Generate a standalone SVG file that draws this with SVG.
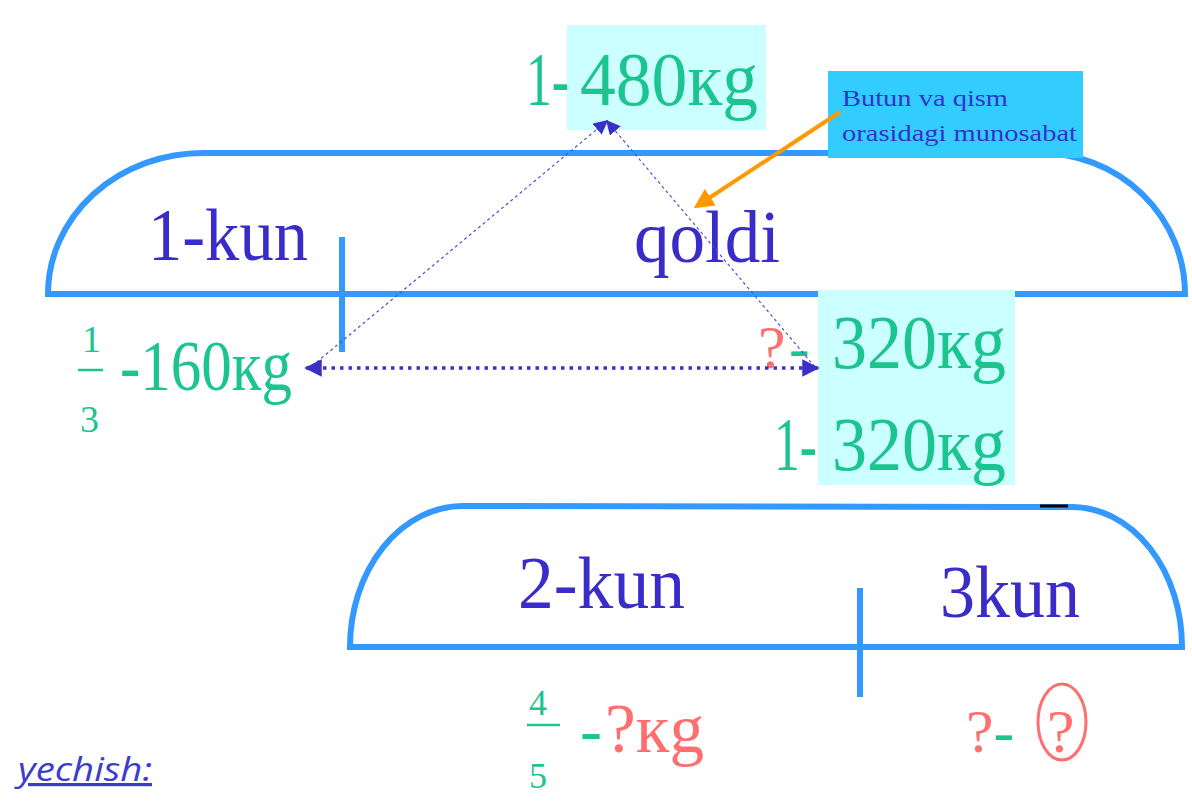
<svg xmlns="http://www.w3.org/2000/svg" width="1192" height="809" viewBox="0 0 1192 809">
<style>
.arch{fill:none;stroke:#3399FF;stroke-width:6}
.tick{stroke:#3399FF;stroke-width:6}
.ser{font-family:"Liberation Serif","DejaVu Serif",serif}
.kun{fill:#3A2CC8;font-size:74px}
.grn{fill:#1CC490}
.red{fill:#FF6F6F}
.thin{stroke:#5050D8;stroke-width:1.2;stroke-dasharray:3 3;fill:none}
.dots{stroke:#3A30C8;stroke-width:3.5;stroke-dasharray:3.5 5;fill:none}
</style>
<defs>
<marker id="ah" viewBox="0 0 10 10" refX="9" refY="5" markerWidth="5" markerHeight="5" orient="auto-start-reverse"><path d="M0,0 L10,5 L0,10 Z" fill="#3A30C8"/></marker>
<marker id="ah2" viewBox="0 0 10 10" refX="9" refY="5" markerWidth="12" markerHeight="12" orient="auto"><path d="M0,0 L10,5 L0,10 Z" fill="#3A30C8"/></marker>
<marker id="oa" viewBox="0 0 10 10" refX="8" refY="5" markerWidth="5" markerHeight="5" orient="auto"><path d="M0,0 L10,5 L0,10 Z" fill="#FF9900"/></marker>
</defs>

<g id="top-arch">
<path class="arch" d="M48,294 A155,141 0 0 1 203,153 L1040,153 A145,141 0 0 1 1185,294 Z"/>
<line class="tick" x1="342" y1="237" x2="342" y2="352"/>
<text class="ser kun" x="148" y="260" textLength="160" lengthAdjust="spacingAndGlyphs">1-kun</text>
<text class="ser kun" x="634" y="262" textLength="146" lengthAdjust="spacingAndGlyphs">qoldi</text>
</g>

<g id="bottom-arch">
<path class="arch" d="M350,647 A113,141 0 0 1 463,506 L1072,507 A110,140 0 0 1 1182,647 Z"/>
<line x1="1040" y1="506" x2="1068" y2="506" stroke="#000" stroke-width="3"/>
<line class="tick" x1="860" y1="588" x2="860" y2="697"/>
<text class="ser kun" x="518" y="608" textLength="167" lengthAdjust="spacingAndGlyphs">2-kun</text>
<text class="ser kun" x="940" y="617" textLength="140" lengthAdjust="spacingAndGlyphs">3kun</text>
</g>

<g id="whole">
<rect x="567" y="25" width="199" height="105" fill="#CCFFFF"/>
<text class="ser grn" transform="translate(526,105) scale(0.68,1)" x="0" y="0" font-size="76">1-</text>
<text class="ser grn" x="580" y="105" font-size="76" textLength="178" lengthAdjust="spacingAndGlyphs">480кg</text>
</g>

<g id="note">
<rect x="828" y="71" width="255" height="87" fill="#33CCFF"/>
<text class="ser" x="842" y="106" font-size="24" fill="#3333CC" textLength="166" lengthAdjust="spacingAndGlyphs">Butun va qism</text>
<text class="ser" x="842" y="141" font-size="24" fill="#3333CC" textLength="235" lengthAdjust="spacingAndGlyphs">orasidagi munosabat</text>
</g>

<g id="part1">
<text class="ser grn" x="82" y="352" font-size="38">1</text>
<line x1="78" y1="370" x2="103" y2="370" stroke="#1CC490" stroke-width="2.5"/>
<text class="ser grn" x="80" y="432" font-size="38">3</text>
<text class="ser grn" x="120" y="390" font-size="72" textLength="172" lengthAdjust="spacingAndGlyphs">-160кg</text>
</g>

<g id="rest">
<text class="ser red" x="758" y="368" font-size="62">?</text>
<text class="ser grn" x="789" y="368" font-size="62">-</text>
<rect x="818" y="290" width="197" height="195" fill="#CCFFFF"/>
<text class="ser grn" x="832" y="368" font-size="76" textLength="174" lengthAdjust="spacingAndGlyphs">320кg</text>
<text class="ser grn" transform="translate(774,470) scale(0.68,1)" x="0" y="0" font-size="76">1-</text>
<text class="ser grn" x="832" y="470" font-size="76" textLength="174" lengthAdjust="spacingAndGlyphs">320кg</text>
</g>

<g id="part2">
<text class="ser grn" x="529" y="715" font-size="36">4</text>
<line x1="527" y1="725" x2="560" y2="725" stroke="#1CC490" stroke-width="2.5"/>
<text class="ser grn" x="529" y="788" font-size="36">5</text>
<text class="ser grn" x="580" y="752" font-size="66" textLength="22" lengthAdjust="spacingAndGlyphs">-</text>
<text class="ser red" x="605" y="752" font-size="70" textLength="99" lengthAdjust="spacingAndGlyphs">?кg</text>
</g>

<g id="part3">
<text class="ser" x="966" y="752" font-size="62"><tspan class="red">?</tspan><tspan class="grn">-</tspan></text>
<text class="ser red" x="1047" y="752" font-size="62">?</text>
<ellipse cx="1062" cy="722" rx="24" ry="38" fill="none" stroke="#FF6F6F" stroke-width="3"/>
</g>

<g id="solution">
<text x="18" y="781" font-family="'Open Sans','Noto Sans',sans-serif" font-style="italic" font-size="32" fill="#3C3CCC" text-decoration="underline" textLength="134" lengthAdjust="spacingAndGlyphs">yechish:</text>
</g>

<g id="connectors">
<line class="thin" x1="312" y1="366" x2="607" y2="121" marker-end="url(#ah2)"/>
<line class="thin" x1="815" y1="367" x2="607" y2="121" marker-end="url(#ah2)"/>
<line class="dots" x1="306" y1="368" x2="818" y2="368" marker-start="url(#ah)" marker-end="url(#ah)"/>
<line x1="840" y1="112" x2="697" y2="206" stroke="#FF9900" stroke-width="4" marker-end="url(#oa)"/>
</g>
</svg>
